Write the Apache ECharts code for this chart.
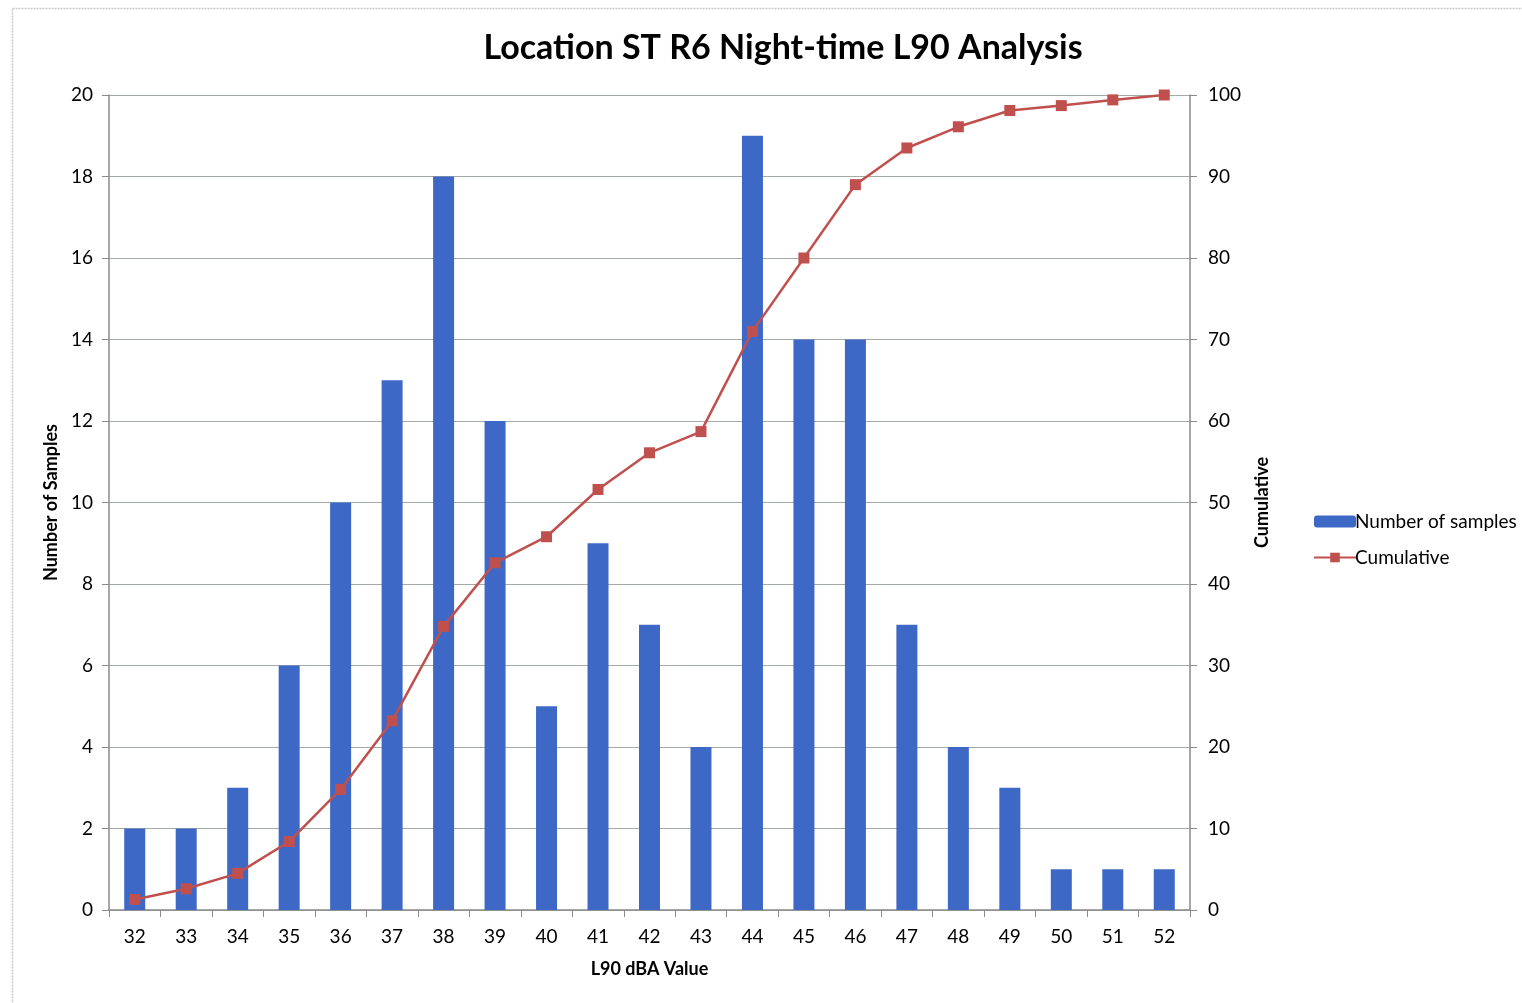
<!DOCTYPE html>
<html>
<head>
<meta charset="utf-8">
<script src="https://cdn.jsdelivr.net/npm/echarts@6/dist/echarts.min.js"></script>
<style>
html,body{margin:0;padding:0;background:#fff;}
#chart{width:1522px;height:1003px;}
</style>
</head>
<body>
<div id="chart"></div>
<script>
const categories = ['32','33','34','35','36','37','38','39','40','41','42','43','44','45','46','47','48','49','50','51','52'];
const samples = [2,2,3,6,10,13,18,12,5,9,7,4,19,14,14,7,4,3,1,1,1];
const cumulative = [1.3,2.6,4.5,8.4,14.8,23.2,34.8,42.6,45.8,51.6,56.1,58.7,71.0,80.0,89.0,93.5,96.1,98.1,98.7,99.4,100];

const FONT = 'Lato, "Open Sans", sans-serif';
const chart = echarts.init(document.getElementById('chart'));
chart.setOption({
  backgroundColor: '#fff',
  animation: false,
  textStyle: { fontFamily: FONT, color: '#000' },
  graphic: [{
    type: 'rect', left: 10, top: 6, silent: true,
    shape: { width: 1600, height: 1100 },
    style: { fill: 'none', stroke: '#c8c8c8', lineWidth: 1.5, lineDash: [2, 1] }
  }],
  title: {
    text: 'Location ST R6 Night-time L90 Analysis',
    left: 778, top: 26, textAlign: 'center',
    textStyle: { fontFamily: FONT, fontSize: 34, fontWeight: 'bold', color: '#000' }
  },
  legend: {
    orient: 'vertical', left: 1308, top: 507, itemGap: 17,
    itemWidth: 42, itemHeight: 12,
    textStyle: { fontFamily: FONT, fontSize: 19, color: '#000', padding: [0, 0, 0, -6] },
    data: ['Number of samples', 'Cumulative']
  },
  grid: { left: 109, right: 332, top: 95, bottom: 93 },
  xAxis: {
    type: 'category', data: categories,
    name: 'L90 dBA Value', nameLocation: 'middle', nameGap: 50,
    nameTextStyle: { fontFamily: FONT, fontSize: 18, fontWeight: 'bold', color: '#000' },
    axisLine: { lineStyle: { color: '#8a8a8a', width: 1.5 } },
    axisTick: { show: true, length: 7, lineStyle: { color: '#8a8a8a' } },
    axisLabel: { margin: 17, fontSize: 19, color: '#000', fontFamily: FONT }
  },
  yAxis: [{
    type: 'value', min: 0, max: 20, interval: 2, position: 'left',
    name: 'Number of Samples', nameLocation: 'middle', nameGap: 48, nameRotate: 90,
    nameTextStyle: { fontFamily: FONT, fontSize: 18, fontWeight: 'bold', color: '#000' },
    axisLine: { show: true, lineStyle: { color: '#8a8a8a', width: 1.5 } },
    axisTick: { show: true, length: 7, lineStyle: { color: '#8a8a8a' } },
    axisLabel: { margin: 16, fontSize: 19, color: '#000', fontFamily: FONT },
    splitLine: { show: true, lineStyle: { color: '#a4aaa4', width: 1.2 } }
  }, {
    type: 'value', min: 0, max: 100, interval: 10, position: 'right',
    name: 'Cumulative', nameLocation: 'middle', nameGap: 63, nameRotate: 90,
    nameTextStyle: { fontFamily: FONT, fontSize: 18, fontWeight: 'bold', color: '#000' },
    axisLine: { show: true, lineStyle: { color: '#8a8a8a', width: 1.5 } },
    axisTick: { show: true, length: 7, lineStyle: { color: '#8a8a8a' } },
    axisLabel: { margin: 18, fontSize: 19, color: '#000', fontFamily: FONT },
    splitLine: { show: false }
  }],
  series: [{
    name: 'Number of samples', type: 'bar', data: samples,
    barWidth: 21, yAxisIndex: 0,
    itemStyle: { color: '#3d68c6' }
  }, {
    name: 'Cumulative', type: 'line', data: cumulative, yAxisIndex: 1,
    symbol: 'rect', symbolSize: 11,
    lineStyle: { color: '#c0504d', width: 2.5 },
    itemStyle: { color: '#c0504d' }
  }]
});
</script>
</body>
</html>
